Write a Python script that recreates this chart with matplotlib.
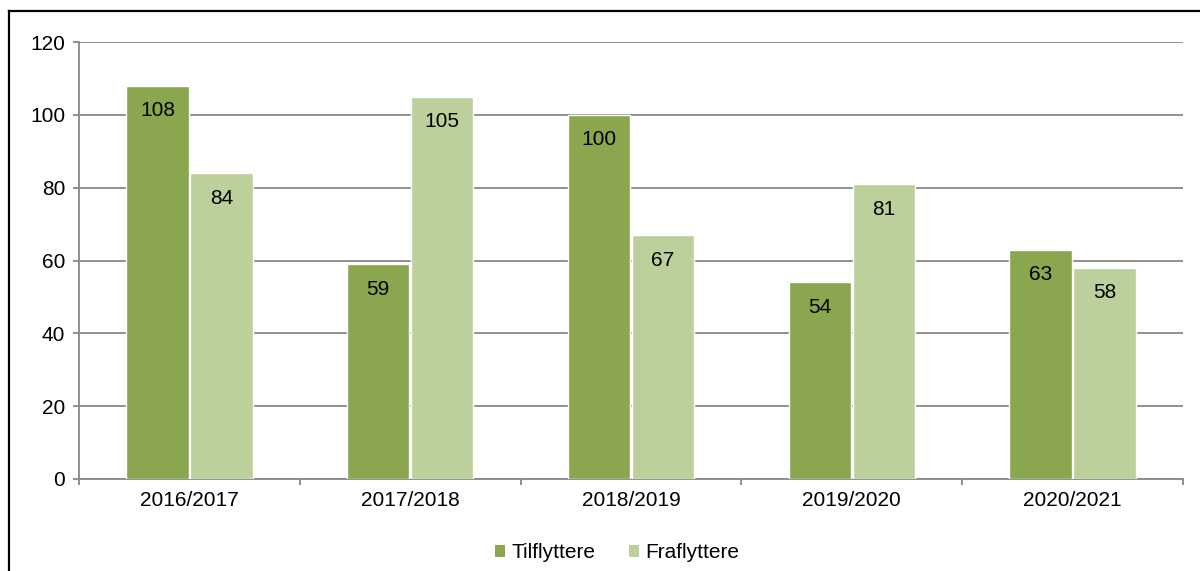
import matplotlib
matplotlib.use('Agg')
import matplotlib.pyplot as plt
from matplotlib.lines import Line2D
from matplotlib.patches import Patch
import numpy as np

# data
periods = ['2016/2017', '2017/2018', '2018/2019', '2019/2020', '2020/2021']
tilflyttere = [108, 59, 100, 54, 63]
fraflyttere = [84, 105, 67, 81, 58]
yTicks = [0, 20, 40, 60, 80, 100, 120]

darkGreen = '#8aa64f'
lightGreen = '#bbd09a'
gridGray = '#888888'

plt.rcParams['font.family'] = ['Liberation Sans', 'DejaVu Sans']

W, H = 1200, 571
dpi = 100
fig = plt.figure(figsize=(W / dpi, H / dpi), dpi=dpi)

# plot area in pixels: x 79..1183, y 42..479
ax = fig.add_axes([79 / W, (H - 479) / H, 1104 / W, (479 - 42) / H])

x = np.arange(len(periods))
width = 0.282
off = 0.145
b1 = ax.bar(x - off, tilflyttere, width, color=darkGreen, edgecolor='white', linewidth=1.0, zorder=3)
b2 = ax.bar(x + off, fraflyttere, width, color=lightGreen, edgecolor='white', linewidth=1.0, zorder=3)

for bars, vals in ((b1, tilflyttere), (b2, fraflyttere)):
  for rect, v in zip(bars, vals):
    ax.annotate(str(v), (rect.get_x() + rect.get_width() / 2, v),
                xytext=(0, -18), textcoords='offset points',
                ha='center', va='center', fontsize=15, color='black', zorder=4)

ax.set_xlim(-0.5, len(periods) - 0.5)
ax.set_ylim(0, 120)
ax.set_yticks(yTicks)
ax.set_xticks(x)
ax.set_xticklabels(periods)
ax.set_xticks(np.arange(-0.5, len(periods)), minor=True)

ax.yaxis.grid(True, color=gridGray, linewidth=1.3, zorder=0)
ax.set_axisbelow(True)

for s in ('top', 'right'):
  ax.spines[s].set_visible(False)
for s in ('left', 'bottom'):
  ax.spines[s].set_color(gridGray)
  ax.spines[s].set_linewidth(1.3)

ax.tick_params(axis='y', length=4, width=1.3, color=gridGray, labelsize=15, pad=6)
ax.tick_params(axis='x', which='major', length=0, labelsize=15, pad=9)
ax.tick_params(axis='x', which='minor', length=4, width=1.3, color=gridGray)

handles = [Patch(facecolor=darkGreen, edgecolor='none', label='Tilflyttere'),
           Patch(facecolor=lightGreen, edgecolor='none', label='Fraflyttere')]
fig.legend(handles=handles, loc='center', bbox_to_anchor=(617 / W, 1 - 553 / H),
           ncol=2, frameon=False, fontsize=15, handlelength=0.5, handleheight=0.5,
           handletextpad=0.3, columnspacing=1.6)

# black frame around the chart (continues past the right and bottom edges)
fig.add_artist(Line2D([9 / W, 9 / W], [1 - 11 / H, -0.05], transform=fig.transFigure,
                      color='black', linewidth=1.6))
fig.add_artist(Line2D([9 / W, 1.05], [1 - 11 / H, 1 - 11 / H], transform=fig.transFigure,
                      color='black', linewidth=1.6))

fig.savefig('out.png', dpi=dpi)
